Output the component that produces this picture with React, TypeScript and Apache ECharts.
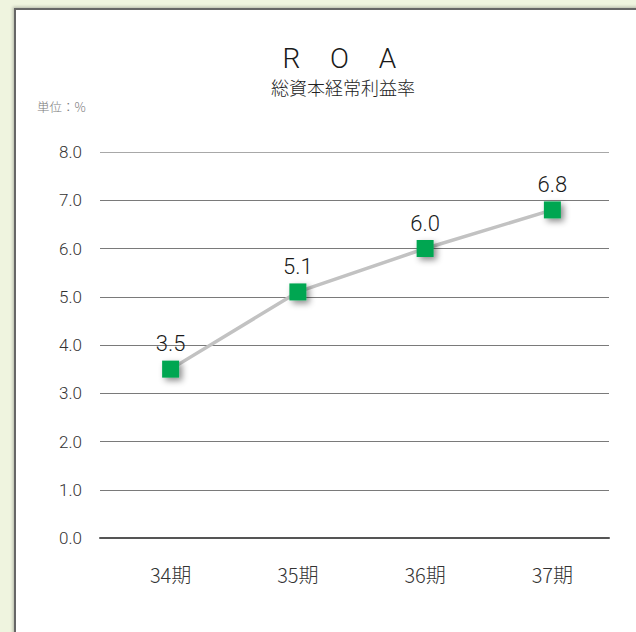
import React, { useEffect, useRef } from "react";
import * as echarts from "echarts";

// ROA (総資本経常利益率) by fiscal period
const periods = ["34期", "35期", "36期", "37期"];
const roaValues = [3.5, 5.1, 6.0, 6.8];
const yTicks = [0, 1, 2, 3, 4, 5, 6, 7, 8];
const titleLetters = ["R", "O", "A"];

const W = 636;
const H = 632;
const NUM_FONT = "Roboto, 'Liberation Sans', sans-serif";
const JP_FONT = "'Noto Sans CJK JP', Roboto, sans-serif";

export default function App() {
  const ref = useRef<HTMLDivElement>(null);

  useEffect(() => {
    if (!ref.current) return;
    const chart = echarts.init(ref.current, undefined, { renderer: "svg" });

    const gridColors = yTicks.map((v) =>
      v === yTicks[yTicks.length - 1] ? "#a8a8a8" : "#7a7a7a"
    );

    chart.setOption({
      animation: false,
      backgroundColor: "transparent",
      title: [
        {
          text: "総資本経常利益率",
          left: 338,
          top: 73,
          textAlign: "center",
          textStyle: {
            fontFamily: JP_FONT,
            fontSize: 18,
            fontWeight: 300,
            color: "#222",
          },
        },
        {
          text: "単位：%",
          left: 32,
          top: 95,
          textStyle: {
            fontFamily: JP_FONT,
            fontSize: 12.5,
            fontWeight: 300,
            color: "#7a7a7a",
          },
        },
      ],
      graphic: titleLetters.map((ch, i) => ({
        type: "text",
        x: 291.5 + i * 48,
        y: 58,
        style: {
          text: ch,
          fontFamily: NUM_FONT,
          fontSize: 28,
          fontWeight: 300,
          fill: "#1a1a1a",
          align: "center",
          verticalAlign: "middle",
        },
      })),
      grid: [
        { left: 100, right: W - 609, top: 152, bottom: H - 538 },
        { left: 107, right: W - 616, top: 152, bottom: H - 538 },
      ],
      xAxis: [
        {
          gridIndex: 0,
          type: "category",
          data: periods,
          axisLine: { show: true, lineStyle: { color: "#555", width: 2 } },
          axisTick: { show: false },
          axisLabel: { show: false },
        },
        {
          gridIndex: 1,
          type: "category",
          data: periods,
          axisLine: { show: false },
          axisTick: { show: false },
          axisLabel: {
            margin: 26,
            fontFamily: JP_FONT,
            fontSize: 20,
            fontWeight: 300,
            color: "#333",
          },
        },
      ],
      yAxis: [
        {
          gridIndex: 0,
          type: "value",
          min: 0,
          max: 8,
          interval: 1,
          axisLine: { show: false },
          axisTick: { show: false },
          axisLabel: {
            margin: 18,
            fontFamily: NUM_FONT,
            fontSize: 17,
            fontWeight: 300,
            color: "#333",
            formatter: (v: number) => v.toFixed(1),
          },
          splitLine: { show: true, lineStyle: { color: gridColors, width: 1 } },
        },
        {
          gridIndex: 1,
          type: "value",
          min: 0,
          max: 8,
          interval: 1,
          show: false,
        },
      ],
      series: [
        {
          type: "line",
          xAxisIndex: 1,
          yAxisIndex: 1,
          data: roaValues,
          symbol: "rect",
          symbolSize: 17,
          lineStyle: { color: "#c2c2c2", width: 3.5 },
          itemStyle: {
            color: "#00a651",
            shadowColor: "rgba(0,0,0,0.45)",
            shadowBlur: 6,
            shadowOffsetX: 3,
            shadowOffsetY: 3,
          },
          label: {
            show: true,
            position: "top",
            distance: 6,
            fontFamily: NUM_FONT,
            fontSize: 22,
            fontWeight: 300,
            color: "#1a1a1a",
            formatter: (p: any) => Number(p.value).toFixed(1),
          },
          emphasis: { disabled: true },
          z: 5,
        },
      ],
    });

    return () => chart.dispose();
  }, []);

  return (
    <div
      style={{
        position: "fixed",
        left: 0,
        top: 0,
        width: W,
        height: H,
        background: "#eff4df",
        overflow: "hidden",
      }}
    >
      <div
        style={{
          position: "absolute",
          left: 14,
          top: 8,
          width: W + 20,
          height: H + 20,
          background: "#ffffff",
          borderLeft: "2px solid #666",
          borderTop: "2px solid #666",
          boxShadow: "-1px -1px 3px rgba(0,0,0,0.25)",
        }}
      />
      <div
        ref={ref}
        style={{ position: "absolute", left: 0, top: 0, width: W, height: H }}
      />
    </div>
  );
}
